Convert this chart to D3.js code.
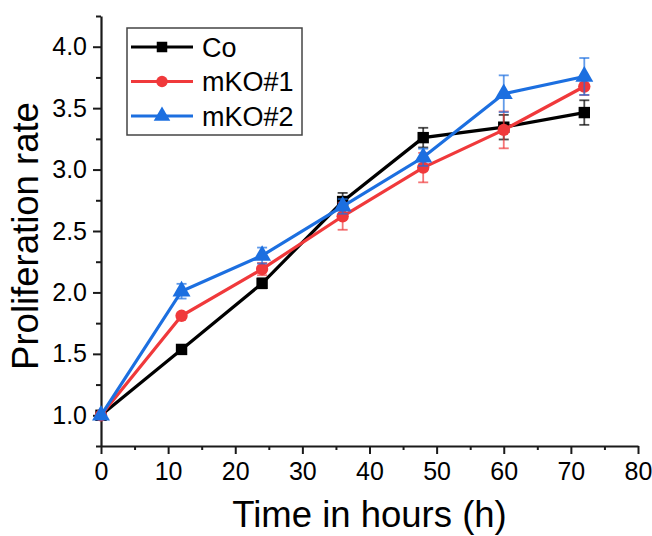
<!DOCTYPE html>
<html>
<head>
<meta charset="utf-8">
<script src="https://cdnjs.cloudflare.com/ajax/libs/d3/7.8.5/d3.min.js"></script>
<style>
  body { margin: 0; background: #fff; }
  text { font-family: "Liberation Sans", Arial, sans-serif; fill: #000; }
</style>
</head>
<body>
<div id="chart"></div>
<script>
"use strict";

// data
var hours = [0, 12, 24, 36, 48, 60, 72];
var seriesNames = ["Co", "mKO#1", "mKO#2"];
var coValues = [1.0, 1.536, 2.074, 2.74, 3.26, 3.345, 3.464];
var coErrors = [0, 0.01, 0.04, 0.07, 0.08, 0.1, 0.1];
var ko1Values = [1.0, 1.81, 2.19, 2.62, 3.016, 3.323, 3.676];
var ko1Errors = [0, 0.02, 0.05, 0.11, 0.12, 0.15, 0.07];
var ko2Values = [1.0, 2.01, 2.3, 2.7, 3.1, 3.617, 3.758];
var ko2Errors = [0, 0.06, 0.065, 0.06, 0.07, 0.15, 0.15];
var xTicks = [0, 10, 20, 30, 40, 50, 60, 70, 80];
var yTicks = [1.0, 1.5, 2.0, 2.5, 3.0, 3.5, 4.0];

var colors = ["#000000", "#f0393b", "#1c6fe0"];
var symbols = [d3.symbolSquare, d3.symbolCircle, d3.symbolTriangle];
var symSizes = [130, 120, 140];

var series = [
  { name: seriesNames[0], values: coValues, errors: coErrors },
  { name: seriesNames[1], values: ko1Values, errors: ko1Errors },
  { name: seriesNames[2], values: ko2Values, errors: ko2Errors }
];

var width = 652, height = 536;
var margin = { left: 101, right: 14, top: 16, bottom: 90 };

var svg = d3.select("#chart")
  .append("svg")
  .attr("width", width)
  .attr("height", height);

var x = d3.scaleLinear().domain([0, 80]).range([margin.left, width - margin.right]);
var y = d3.scaleLinear().domain([0.75, 4.25]).range([height - margin.bottom, margin.top]);

// axes: major + minor ticks, outward
var xMinor = d3.range(0, 81, 5).filter(function(d) { return d % 10 !== 0; });
var yMinor = d3.range(0.75, 4.26, 0.5);

svg.append("g")
  .attr("transform", "translate(0," + y(0.75) + ")")
  .call(d3.axisBottom(x).tickValues(xMinor).tickSize(4).tickFormat(""))
  .call(function(g) { g.select(".domain").remove(); });

svg.append("g")
  .attr("transform", "translate(" + x(0) + ",0)")
  .call(d3.axisLeft(y).tickValues(yMinor).tickSize(5).tickFormat(""))
  .call(function(g) { g.select(".domain").remove(); });

var xAxis = svg.append("g")
  .attr("transform", "translate(0," + y(0.75) + ")")
  .call(d3.axisBottom(x).tickValues(xTicks).tickSize(8).tickSizeOuter(0).tickPadding(8));
xAxis.selectAll("text").attr("font-size", 25).attr("dy", "0.71em");

var yAxis = svg.append("g")
  .attr("transform", "translate(" + x(0) + ",0)")
  .call(d3.axisLeft(y).tickValues(yTicks).tickSize(8).tickSizeOuter(0).tickPadding(6)
    .tickFormat(d3.format(".1f")));
yAxis.selectAll("text").attr("font-size", 25);

svg.selectAll(".domain").attr("stroke", "#1a1a1a").attr("stroke-width", 2.2);
svg.selectAll(".tick line").attr("stroke", "#1a1a1a").attr("stroke-width", 2);

// axis titles
svg.append("text")
  .attr("x", (x(0) + x(80)) / 2)
  .attr("y", 527)
  .attr("text-anchor", "middle")
  .attr("font-size", 36.5)
  .text("Time in hours (h)");

svg.append("text")
  .attr("transform", "translate(38," + 236 + ") rotate(-90)")
  .attr("text-anchor", "middle")
  .attr("font-size", 36.5)
  .text("Proliferation rate");

// lines, error bars, markers
var line = d3.line()
  .x(function(d) { return x(d.h); })
  .y(function(d) { return y(d.v); });

series.forEach(function(s, i) {
  var pts = hours.map(function(h, j) {
    return { h: h, v: s.values[j], e: s.errors[j] };
  });
  var g = svg.append("g").attr("class", "series");

  g.append("path")
    .datum(pts)
    .attr("fill", "none")
    .attr("stroke", colors[i])
    .attr("stroke-width", 3.2)
    .attr("d", line);

  var eb = g.selectAll(".err")
    .data(pts.filter(function(d) { return d.e > 0; }))
    .enter()
    .append("g")
    .attr("stroke", colors[i])
    .attr("stroke-opacity", 0.7)
    .attr("stroke-width", 1.8);
  eb.append("line")
    .attr("x1", function(d) { return x(d.h); })
    .attr("x2", function(d) { return x(d.h); })
    .attr("y1", function(d) { return y(d.v - d.e); })
    .attr("y2", function(d) { return y(d.v + d.e); });
  [-1, 1].forEach(function(sgn) {
    eb.append("line")
      .attr("x1", function(d) { return x(d.h) - 5; })
      .attr("x2", function(d) { return x(d.h) + 5; })
      .attr("y1", function(d) { return y(d.v + sgn * d.e); })
      .attr("y2", function(d) { return y(d.v + sgn * d.e); });
  });

  g.selectAll(".pt")
    .data(pts)
    .enter()
    .append("path")
    .attr("transform", function(d) { return "translate(" + x(d.h) + "," + y(d.v) + ")"; })
    .attr("d", d3.symbol().type(symbols[i]).size(symSizes[i]))
    .attr("fill", colors[i]);
});

// legend
var legend = svg.append("g");
legend.append("rect")
  .attr("x", 127).attr("y", 28)
  .attr("width", 175).attr("height", 107)
  .attr("fill", "#fff")
  .attr("stroke", "#444")
  .attr("stroke-width", 1.5);

series.forEach(function(s, i) {
  var ly = 47 + i * 34.5;
  legend.append("line")
    .attr("x1", 131).attr("x2", 193)
    .attr("y1", ly).attr("y2", ly)
    .attr("stroke", colors[i])
    .attr("stroke-width", 3.2);
  legend.append("path")
    .attr("transform", "translate(162," + ly + ")")
    .attr("d", d3.symbol().type(symbols[i]).size(symSizes[i] * 0.85))
    .attr("fill", colors[i]);
  legend.append("text")
    .attr("x", 202)
    .attr("y", ly + 9.5)
    .attr("font-size", 27)
    .text(s.name);
});
</script>
</body>
</html>
